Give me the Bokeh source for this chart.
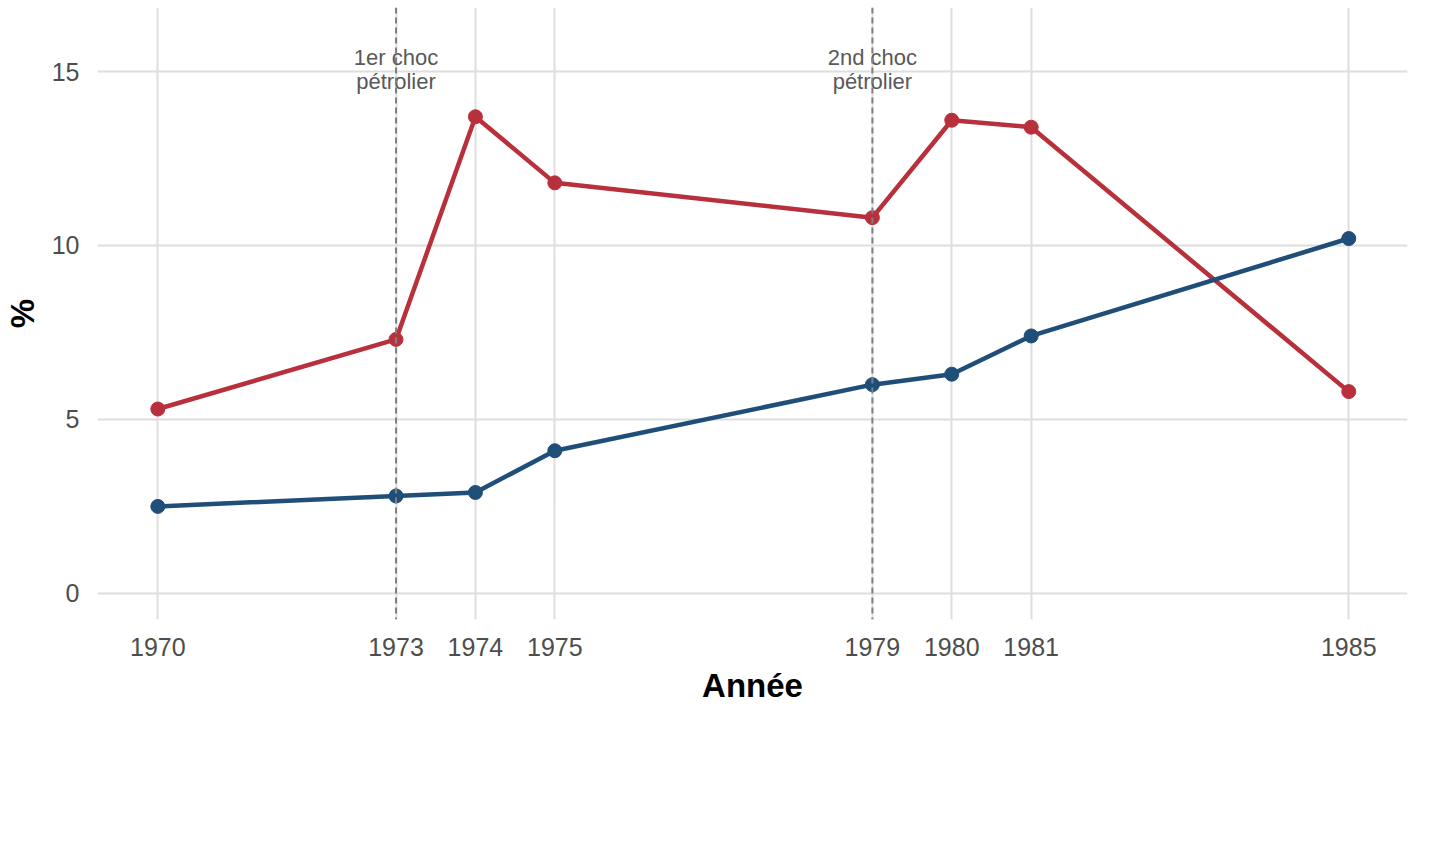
from bokeh.plotting import figure
from bokeh.models import Span, Legend, LegendItem, FixedTicker, Range1d
from bokeh.core.properties import value
from bokeh.embed import file_html
from bokeh.resources import INLINE

years = [1970, 1973, 1974, 1975, 1979, 1980, 1981, 1985]
inflation = [5.3, 7.3, 13.7, 11.8, 10.8, 13.6, 13.4, 5.8]
chomage = [2.5, 2.8, 2.9, 4.1, 6.0, 6.3, 7.4, 10.2]
chocs = [1973, 1979]
choc_l1 = ["1er choc", "2nd choc"]
choc_l2 = ["pétrolier", "pétrolier"]

p = figure(frame_width=1310, frame_height=612, output_backend="svg", toolbar_location=None,
           x_range=Range1d(1969.24, 1985.74), y_range=Range1d(-0.75, 16.84),
           min_border_left=95, min_border_top=7, min_border_right=19, min_border_bottom=0)
p.outline_line_color = None
p.background_fill_color = "white"
for ax in (p.xaxis[0], p.yaxis[0]):
    ax.axis_line_color = None
    ax.major_tick_line_color = None
    ax.minor_tick_line_color = None
    ax.major_label_text_font = "Liberation Sans"
    ax.major_label_text_font_size = "25px"
    ax.major_label_text_color = "#4d4d4d"
    ax.axis_label_text_font = "Liberation Sans"
    ax.axis_label_text_font_size = "33px"
    ax.axis_label_text_font_style = "bold"
    ax.axis_label_text_color = "black"
    ax.major_label_standoff = 12
    ax.axis_label_standoff = 8
p.xaxis.ticker = FixedTicker(ticks=years)
p.yaxis.ticker = FixedTicker(ticks=[0, 5, 10, 15])
p.xaxis.axis_label = "Année"
p.yaxis.axis_label = "%"
p.grid.grid_line_color = "#dedede"
p.grid.grid_line_width = 2
p.grid.minor_grid_line_color = None

for c in chocs:
    p.add_layout(Span(location=c, dimension="height", line_color="#808080",
                      line_dash="6 4", line_width=2))
p.text(x=chocs, y=[15.4, 15.4], text=choc_l1, text_align="center", text_baseline="middle",
       text_font=value("Liberation Sans"), text_font_size="22px", text_color="#595959")
p.text(x=chocs, y=[14.72, 14.72], text=choc_l2, text_align="center", text_baseline="middle",
       text_font=value("Liberation Sans"), text_font_size="22px", text_color="#595959")

red = "#b8303b"
blue = "#1f4e79"
l1 = p.line(years, inflation, line_color=red, line_width=4.5)
s1 = p.scatter(years, inflation, size=14, color=red)
l2 = p.line(years, chomage, line_color=blue, line_width=4.5)
s2 = p.scatter(years, chomage, size=14, color=blue)

legend = Legend(items=[LegendItem(label="Inflation (IPC, % annuel)", renderers=[l1, s1]),
                       LegendItem(label="Taux de chômage (%)", renderers=[l2, s2])],
                orientation="horizontal", location="center",
                label_text_font="Liberation Sans", label_text_font_size="27px",
                label_text_color="black", border_line_color=None,
                glyph_width=40, label_standoff=20, spacing=22, margin=50, padding=10)
p.add_layout(legend, "below")

open("out.html", "w").write(file_html(p, INLINE))
